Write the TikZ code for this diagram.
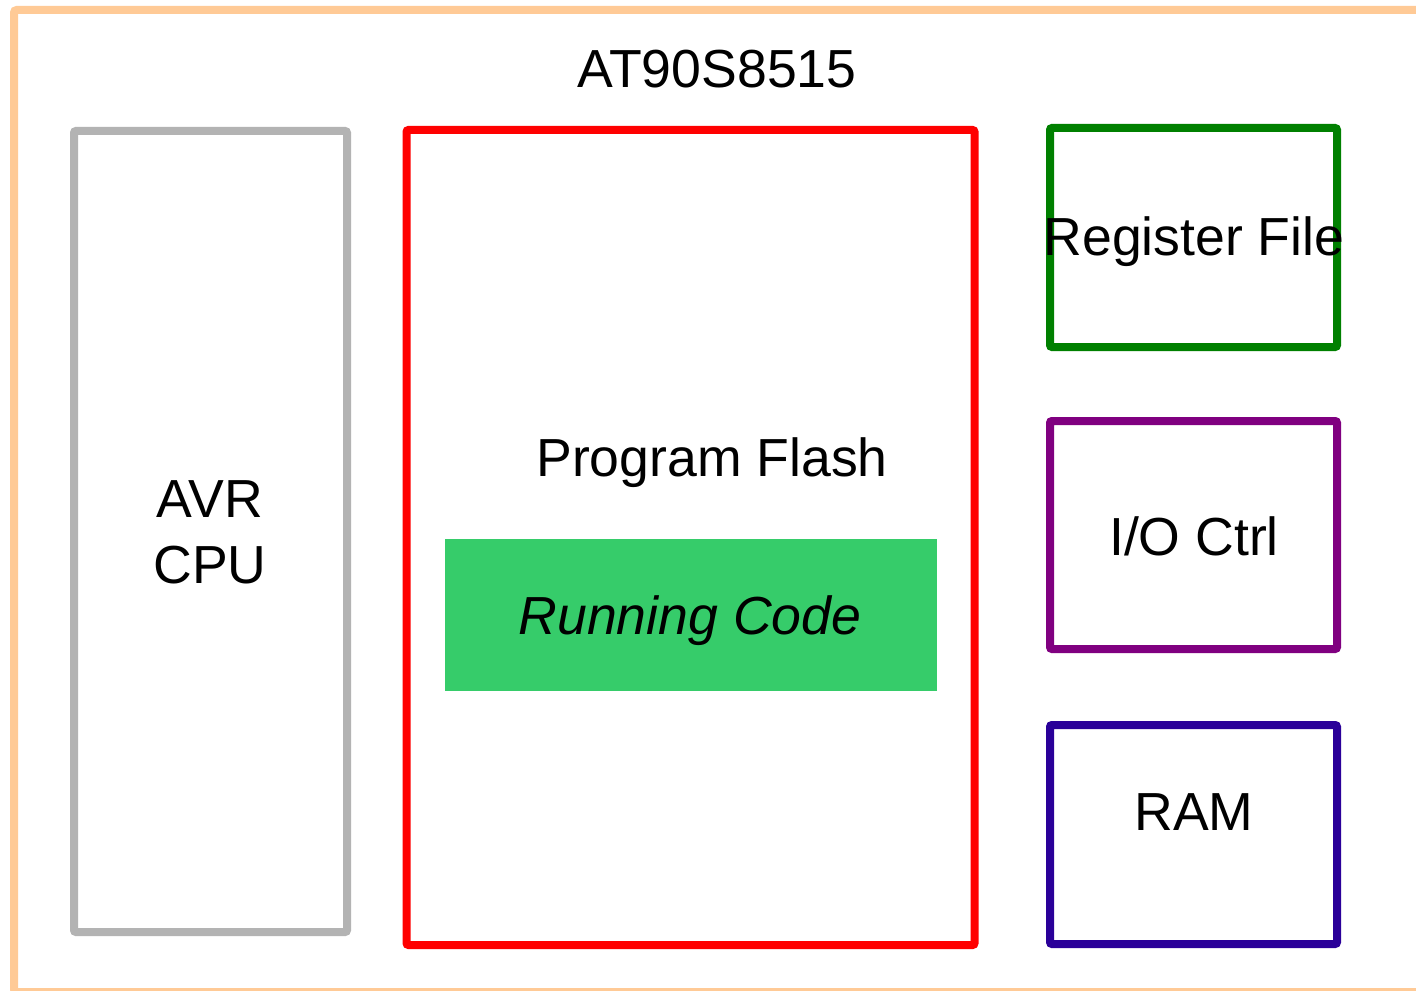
\documentclass[tikz,border=0pt]{standalone}
\usepackage{fontspec}
\setmainfont{Liberation Sans}
\definecolor{outerc}{RGB}{255,202,150}
\definecolor{grayc}{RGB}{179,179,179}
\definecolor{redc}{RGB}{255,0,0}
\definecolor{greenc}{RGB}{0,128,0}
\definecolor{purplec}{RGB}{128,0,128}
\definecolor{bluec}{RGB}{42,0,153}
\definecolor{runc}{RGB}{54,204,106}
\begin{document}
\begin{tikzpicture}[x=0.75pt,y=-0.75pt,
  blk/.style={draw, line width=6pt, rounded corners=1.5pt, inner sep=0pt, outer sep=0pt},
  lbl/.style={anchor=base, inner sep=0pt, font=\fontsize{40.2pt}{46pt}\selectfont}]
\useasboundingbox (0,0) rectangle (1416,991);
\clip (0,0) rectangle (1416,991);
\node[draw=outerc, line width=6pt, rounded corners=2pt, inner sep=0pt, outer sep=0pt,
  minimum width=1416*0.75pt, minimum height=982*0.75pt] (chip) at (722,501) {};
\node[blk, draw=grayc, minimum width=273*0.75pt, minimum height=801*0.75pt] (cpu) at (210.5,531.5) {};
\node[blk, draw=redc, minimum width=568*0.75pt, minimum height=815*0.75pt] (flash) at (690.5,537.5) {};
\node[fill=runc, inner sep=0pt, minimum width=492*0.75pt, minimum height=152*0.75pt] (run) at (691,615) {};
\node[blk, draw=greenc, minimum width=287*0.75pt, minimum height=219*0.75pt] (reg) at (1193.5,237.5) {};
\node[blk, draw=purplec, minimum width=287*0.75pt, minimum height=228*0.75pt] (io) at (1193.5,535) {};
\node[blk, draw=bluec, minimum width=287*0.75pt, minimum height=219*0.75pt] (ram) at (1193.5,834.5) {};
\node[lbl] (title) at (717,88) {AT90S8515};
\node[lbl] (cpu1) at (210,517) {AVR};
\node[lbl] (cpu2) at (210,583) {CPU};
\node[lbl] (flashl) at (712,476) {Program Flash};
\node[lbl] (runl) at (690,634) {\itshape Running Code};
\node[lbl] (regl) at (1194,256) {Register File};
\node[lbl] (iol) at (1194,555) {I/O Ctrl};
\node[lbl] (raml) at (1194,830) {RAM};
\end{tikzpicture}
\end{document}
